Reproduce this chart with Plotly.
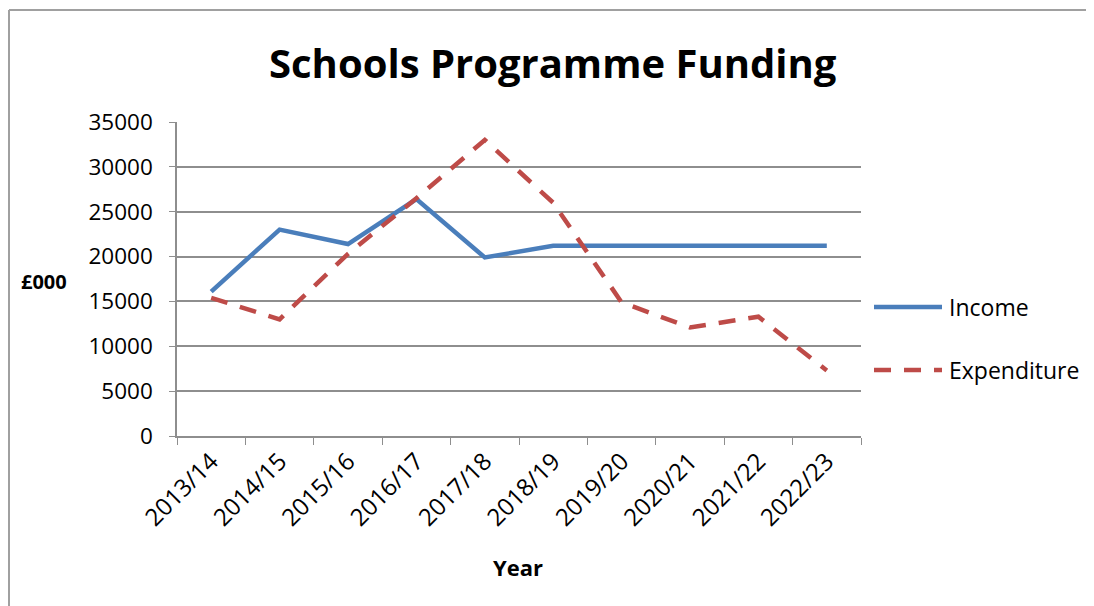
import plotly.graph_objects as go

years = ["2013/14", "2014/15", "2015/16", "2016/17", "2017/18",
         "2018/19", "2019/20", "2020/21", "2021/22", "2022/23"]
income = [16100, 23000, 21400, 26400, 19900, 21200, 21200, 21200, 21200, 21200]
expenditure = [15400, 13000, 20300, 26500, 33000, 26000, 14900, 12100, 13300, 7300]
series_names = ["Income", "Expenditure"]
y_ticks = [0, 5000, 10000, 15000, 20000, 25000, 30000, 35000]

BLUE = "#4A7EBB"
RED = "#BE4B48"
GRID = "#8E8E8E"
FONT = "Open Sans"

# the page body has an 8px margin; figure sized to fit in the window
OFF = 8
W, H = 1094 - OFF, 606 - OFF
L, T = 177 - OFF, 122 - OFF
R = W - (861 - OFF)
B = H - (436 - OFF)

fig = go.Figure()
fig.add_trace(go.Scatter(x=years, y=income, mode="lines", name=series_names[0],
                         line=dict(color=BLUE, width=4.5), showlegend=False))
fig.add_trace(go.Scatter(x=years, y=expenditure, mode="lines", name=series_names[1],
                         line=dict(color=RED, width=4.5, dash="17px,13px"), showlegend=False))

plot_w = W - L - R
plot_h = H - T - B
def px2x(px):
    return (px - OFF - L) / plot_w
def py2y(py):
    return (H - B - (py - OFF)) / plot_h

fig.update_layout(
    width=W, height=H,
    margin=dict(l=L, r=R, t=T, b=B),
    paper_bgcolor="white", plot_bgcolor="white",
    font=dict(family=FONT, size=21, color="black"),
)
fig.add_annotation(text="<b>Schools Programme Funding</b>", xref="paper", yref="paper",
                   x=px2x(553), y=py2y(63), xanchor="center", yanchor="middle",
                   showarrow=False, font=dict(family=FONT, size=40, color="black"))
fig.update_yaxes(range=[0, 35000], tickvals=y_ticks, tickformat="d", ticks="outside", ticklen=6,
                 tickcolor=GRID, showgrid=True, gridcolor=GRID, gridwidth=1.5,
                 showline=True, linecolor=GRID, linewidth=1.5, zeroline=False,
                 ticklabelstandoff=12, tickfont=dict(family=FONT, size=22.5))
fig.update_xaxes(type="category", range=[-0.5, 9.5], tickson="boundaries", ticks="outside",
                 ticklen=7, tickcolor=GRID, showgrid=False, showline=True, linecolor=GRID,
                 linewidth=1.5, tickangle=-45, tickfont=dict(family=FONT, size=24))

# axis titles
fig.add_annotation(text="<b>£000</b>", xref="paper", yref="paper", x=px2x(44), y=py2y(281),
                   xanchor="center", yanchor="middle", showarrow=False,
                   font=dict(family=FONT, size=20))
fig.add_annotation(text="<b>Year</b>", xref="paper", yref="paper", x=px2x(518), y=py2y(567),
                   xanchor="center", yanchor="middle", showarrow=False,
                   font=dict(family=FONT, size=22))

# manual legend
for name, color, dash, ypix in [(series_names[0], BLUE, "solid", 307),
                                (series_names[1], RED, "17px,13px", 370)]:
    fig.add_shape(type="line", xref="paper", yref="paper",
                  x0=px2x(874), x1=px2x(942), y0=py2y(ypix), y1=py2y(ypix),
                  line=dict(color=color, width=4.5, dash=dash))
    fig.add_annotation(text=name, xref="paper", yref="paper", x=px2x(947), y=py2y(ypix),
                       xanchor="left", yanchor="middle", showarrow=False,
                       font=dict(family=FONT, size=23))

# chart-area border (left and top)
fig.add_shape(type="line", xref="paper", yref="paper", x0=px2x(9), x1=px2x(9),
              y0=py2y(10), y1=py2y(606), line=dict(color="#A0A0A0", width=2))
fig.add_shape(type="line", xref="paper", yref="paper", x0=px2x(9), x1=px2x(1094),
              y0=py2y(10), y1=py2y(10), line=dict(color="#A0A0A0", width=2))

fig.write_html("out.html")
